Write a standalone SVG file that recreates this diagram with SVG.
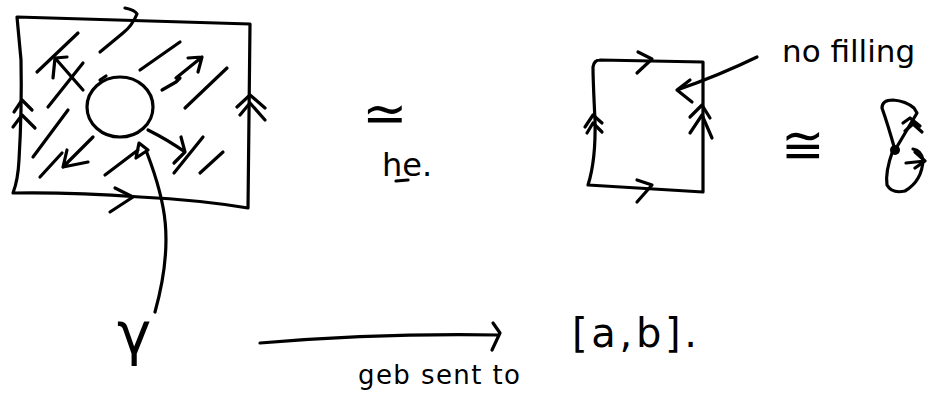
<svg xmlns="http://www.w3.org/2000/svg" width="927" height="402" viewBox="0 0 927 402">
<style>
.s{fill:none;stroke:#000;stroke-width:3.2;stroke-linecap:round;stroke-linejoin:round}
.t{font-family:"DejaVu Sans",sans-serif;fill:#000}
</style>
<rect width="927" height="402" fill="#fff"/>
<g id="left-square">
<path class="s" d="M17,17 L250,24 L248,208 Q200,200 140,197 Q70,192 13,193 Q18,180 19,160 Q22,110 21,60 Z"/>
<path class="s" d="M125,8 Q135,10 137,14 Q132,26 123,33 L100,52"/>
<path class="s" d="M115,188 L133,197 L110,212"/>
<path class="s" d="M14,112 L22,100 L32,110 M13,127 L22,115 L35,128"/>
<path class="s" d="M237,107 L250,95 L265,108 M240,115 L250,103 L265,120"/>
<ellipse class="s" cx="120" cy="107" rx="33" ry="30"/>
<path class="s" d="M37,72 L78,33 M140,70 L180,42 M48,107 L83,63 M33,157 L68,110 M40,177 L62,153 M185,108 L227,68 M200,173 L223,152 M174,173 L203,137 M100,80 L106,76"/>
<path class="s" d="M83,90 L55,58 M53,78 L55,58 L67,57"/>
<path class="s" d="M93,137 L63,167 M67,150 L63,167 L88,162"/>
<path class="s" d="M162,90 L176,82 L180,78 L176,78 L202,57 M188,58 L202,57 L198,72"/>
<path class="s" d="M148,130 Q168,140 185,152 M181,137 L185,152 L174,163"/>
<path class="s" d="M105,175 L138,150 M139,143 L148,150 L136,158 Z"/>
<path class="s" d="M147,153 C165,200 175,240 155,312"/>
</g>
<g id="gamma"><text class="t" x="117" y="354" font-size="58">γ</text></g>
<g id="he">
<text class="t" x="362" y="132" font-size="54">≃</text>
<text class="t" x="382" y="176" font-size="32">he.</text>
<path class="s" d="M396,181 L408,180"/>
</g>
<g id="middle-square">
<path class="s" d="M600,60 L703,62 L703,192 L588,185 Q596,160 595,120 Q593,80 593,67 Q594,60 600,60"/>
<path class="s" d="M638,52 L652,59 L637,73"/>
<path class="s" d="M637,180 L652,185 L637,202"/>
<path class="s" d="M585,127 L593,115 L602,123 M587,133 L593,123 L602,132"/>
<path class="s" d="M690,117 L702,105 L710,118 M690,133 L702,115 L712,138"/>
</g>
<g id="no-filling">
<text class="t" x="782" y="62" font-size="31">no filling</text>
<path class="s" d="M757,57 Q720,75 677,90 M690,80 L677,90 L692,102"/>
</g>
<g id="cong"><text class="t" x="781" y="163" font-size="52">≅</text></g>
<g id="bouquet">
<path class="s" d="M895,150 Q888,125 882,108 Q882,100 893,100 Q906,101 914,108 L917,113 Z"/>
<path class="s" d="M903,123 L910,118 L920,126 M905,131 L913,124 L922,132"/>
<path class="s" d="M893,150 Q885,172 887,185 Q892,194 905,191 Q922,181 923,160 Q921,150 913,149"/>
<path class="s" d="M906,163 L925,161 M915,152 L925,161 L915,168"/>
<circle cx="895" cy="150" r="5" fill="#000"/>
</g>
<g id="connectors">
<path class="s" d="M260,343 Q380,333 498,335 M493,323 L500,333 L492,350"/>
</g>
<g id="arrow-label"><text class="t" x="358" y="384" font-size="26" textLength="162" lengthAdjust="spacing">geb sent to</text></g>
<g id="interval"><text class="t" x="572" y="347" font-size="40" textLength="125" lengthAdjust="spacing">[a,b].</text></g>
</svg>
